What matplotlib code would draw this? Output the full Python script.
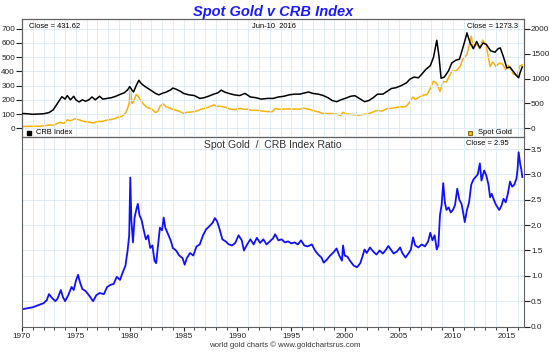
import matplotlib.pyplot as plt
from matplotlib.ticker import FormatStrFormatter

plt.rcParams['font.family'] = ['Liberation Sans', 'DejaVu Sans']

# ---- data ----
crb_t = [1970.0, 1970.5, 1971.0, 1971.5, 1972.0, 1972.5, 1972.9, 1973.2, 1973.5, 1973.7,
         1974.0, 1974.2, 1974.5, 1974.8, 1975.0, 1975.3, 1975.6, 1975.9, 1976.2, 1976.5,
         1976.8, 1977.2, 1977.5, 1977.9, 1978.3, 1978.7, 1979.0, 1979.5, 1979.8, 1980.0,
         1980.2, 1980.35, 1980.6, 1980.85, 1981.0, 1981.3, 1981.6, 1982.0, 1982.4, 1982.7,
         1983.0, 1983.4, 1983.8, 1984.0, 1984.3, 1984.7, 1985.0, 1985.5, 1986.0, 1986.5,
         1986.9, 1987.3, 1987.8, 1988.2, 1988.5, 1988.8, 1989.2, 1989.7, 1990.2, 1990.7,
         1991.2, 1991.7, 1992.2, 1992.8, 1993.3, 1993.8, 1994.3, 1994.8, 1995.3, 1995.8,
         1996.3, 1996.6, 1997.0, 1997.5, 1997.9, 1998.4, 1998.8, 1999.2, 1999.6, 2000.0,
         2000.5, 2000.9, 2001.3, 2001.8, 2002.2, 2002.6, 2003.0, 2003.5, 2003.9, 2004.3,
         2004.7, 2005.2, 2005.7, 2006.0, 2006.4, 2006.8, 2007.1, 2007.5, 2007.9, 2008.2,
         2008.5, 2008.7, 2008.9, 2009.2, 2009.6, 2009.9, 2010.3, 2010.6, 2010.9, 2011.2,
         2011.3, 2011.6, 2011.9, 2012.2, 2012.5, 2012.8, 2013.1, 2013.5, 2013.9, 2014.2,
         2014.4, 2014.7, 2015.0, 2015.3, 2015.6, 2015.9, 2016.1, 2016.25, 2016.44]
crb_v = [104, 102, 98, 100, 102, 110, 130, 165, 200, 222,
         205, 230, 200, 225, 200, 185, 200, 190, 200, 220,
         200, 225, 205, 210, 215, 225, 235, 250, 270, 293,
         270, 255, 300, 338, 320, 300, 285, 265, 245, 235,
         245, 255, 270, 283, 275, 260, 245, 235, 230, 210,
         215, 225, 240, 250, 268, 255, 245, 235, 230, 245,
         220, 215, 205, 210, 210, 220, 225, 235, 240, 240,
         250, 255, 245, 240, 232, 215, 195, 187, 200, 210,
         225, 229, 210, 187, 195, 215, 240, 240, 260, 280,
         285, 300, 320, 345, 360, 355, 380, 415, 440, 500,
         619, 510, 352, 360, 405, 460, 480, 485, 560, 640,
         671, 600, 560, 610, 565, 600, 590, 545, 535, 560,
         565, 500, 425, 430, 400, 370, 355, 395, 431.62]

gold_t = [1970.0, 1971.0, 1971.6, 1972.0, 1972.5, 1973.0, 1973.5, 1973.9, 1974.2, 1974.5,
          1974.9, 1975.3, 1975.7, 1976.0, 1976.6, 1977.0, 1977.5, 1978.0, 1978.5, 1978.9,
          1979.3, 1979.6, 1979.8, 1979.95, 1980.05, 1980.2, 1980.35, 1980.6, 1980.8, 1981.0,
          1981.3, 1981.6, 1982.0, 1982.4, 1982.6, 1982.8, 1983.1, 1983.4, 1983.7, 1984.0,
          1984.5, 1985.0, 1985.3, 1985.7, 1986.2, 1986.6, 1986.9, 1987.3, 1987.8, 1988.1,
          1988.5, 1988.9, 1989.3, 1989.8, 1990.2, 1990.6, 1990.9, 1991.3, 1991.8, 1992.3,
          1992.8, 1993.2, 1993.5, 1993.9, 1994.3, 1994.8, 1995.3, 1995.8, 1996.1, 1996.6,
          1997.0, 1997.5, 1997.9, 1998.3, 1998.8, 1999.2, 1999.6, 1999.8, 2000.1, 2000.5,
          2000.9, 2001.2, 2001.7, 2002.1, 2002.5, 2003.0, 2003.4, 2003.9, 2004.3, 2004.7,
          2005.1, 2005.6, 2005.9, 2006.3, 2006.5, 2006.9, 2007.3, 2007.6, 2007.9, 2008.2,
          2008.5, 2008.8, 2009.1, 2009.4, 2009.9, 2010.3, 2010.7, 2010.9, 2011.3, 2011.7,
          2011.9, 2012.2, 2012.5, 2012.75, 2013.1, 2013.45, 2013.7, 2014.0, 2014.3, 2014.6,
          2014.9, 2015.1, 2015.4, 2015.6, 2015.95, 2016.2, 2016.44]
gold_v = [35, 38, 42, 46, 65, 65, 120, 100, 170, 150,
          190, 170, 140, 130, 108, 135, 140, 170, 185, 220,
          245, 300, 400, 500, 822, 500, 530, 680, 640, 560,
          480, 420, 390, 315, 340, 440, 490, 430, 410, 380,
          350, 300, 320, 325, 345, 380, 400, 420, 470, 440,
          440, 420, 385, 375, 400, 380, 385, 360, 360, 345,
          335, 330, 395, 380, 385, 390, 385, 385, 405, 385,
          355, 330, 300, 295, 295, 285, 255, 320, 290, 280,
          270, 260, 280, 285, 320, 360, 345, 395, 400, 415,
          430, 430, 500, 630, 580, 630, 670, 680, 800, 950,
          900, 740, 940, 930, 1150, 1150, 1250, 1390, 1480, 1850,
          1600, 1700, 1600, 1770, 1650, 1240, 1330, 1240, 1310, 1290,
          1180, 1270, 1180, 1090, 1060, 1250, 1273.3]

ratio_t = [1970.0, 1970.5, 1971.0, 1971.5, 1972.0, 1972.3, 1972.5, 1972.8, 1973.1, 1973.3,
           1973.6, 1973.8, 1974.0, 1974.3, 1974.6, 1974.8, 1975.0, 1975.2, 1975.4, 1975.6,
           1975.9, 1976.2, 1976.6, 1976.9, 1977.2, 1977.6, 1977.9, 1978.2, 1978.5, 1978.8,
           1979.1, 1979.3, 1979.6, 1979.8, 1979.95, 1980.05, 1980.15, 1980.3, 1980.45, 1980.6,
           1980.75, 1980.9, 1981.1, 1981.3, 1981.5, 1981.7, 1981.9, 1982.1, 1982.3, 1982.45,
           1982.6, 1982.8, 1983.0, 1983.15, 1983.3, 1983.5, 1983.8, 1984.0, 1984.3, 1984.6,
           1984.9, 1985.1, 1985.3, 1985.6, 1985.9, 1986.2, 1986.5, 1986.8, 1987.1, 1987.4,
           1987.7, 1987.9, 1988.1, 1988.3, 1988.6, 1988.9, 1989.2, 1989.5, 1989.8, 1990.1,
           1990.4, 1990.6, 1990.9, 1991.2, 1991.5, 1991.8, 1992.1, 1992.4, 1992.7, 1993.0,
           1993.3, 1993.5, 1993.8, 1994.1, 1994.4, 1994.7, 1995.0, 1995.3, 1995.6, 1995.9,
           1996.2, 1996.5, 1996.9, 1997.2, 1997.5, 1997.8, 1998.0, 1998.3, 1998.6, 1998.9,
           1999.2, 1999.45, 1999.7, 1999.8, 1999.95, 2000.2, 2000.5, 2000.8, 2001.1, 2001.4,
           2001.6, 2001.8, 2002.0, 2002.3, 2002.6, 2002.9, 2003.2, 2003.5, 2003.8, 2004.0,
           2004.3, 2004.5, 2004.8, 2005.1, 2005.3, 2005.6, 2005.9, 2006.1, 2006.3, 2006.5,
           2006.8, 2007.1, 2007.4, 2007.7, 2007.9, 2008.1, 2008.3, 2008.5, 2008.65, 2008.8,
           2008.95, 2009.1, 2009.25, 2009.4, 2009.6, 2009.8, 2010.0, 2010.2, 2010.4, 2010.6,
           2010.8, 2010.95, 2011.1, 2011.3, 2011.5, 2011.7, 2011.9, 2012.1, 2012.3, 2012.5,
           2012.65, 2012.9, 2013.1, 2013.3, 2013.45, 2013.6, 2013.8, 2014.0, 2014.3, 2014.5,
           2014.7, 2014.9, 2015.1, 2015.3, 2015.5, 2015.7, 2015.9, 2016.0, 2016.1, 2016.25,
           2016.35, 2016.44]
ratio_v = [0.34, 0.36, 0.38, 0.42, 0.46, 0.52, 0.64, 0.56, 0.50, 0.55,
           0.72, 0.58, 0.50, 0.62, 0.78, 0.72, 0.90, 1.02, 0.86, 0.74,
           0.70, 0.62, 0.50, 0.62, 0.66, 0.64, 0.78, 0.82, 0.84, 0.98,
           0.92, 1.04, 1.20, 1.50, 1.80, 2.94, 2.10, 1.66, 2.15, 2.30,
           2.42, 2.20, 2.10, 1.90, 1.72, 1.80, 1.55, 1.60, 1.30, 1.25,
           1.55, 1.95, 1.90, 2.15, 1.95, 1.85, 1.70, 1.55, 1.50, 1.40,
           1.35, 1.22, 1.35, 1.45, 1.40, 1.58, 1.62, 1.80, 1.92, 1.98,
           2.05, 2.14, 2.08, 1.95, 1.72, 1.68, 1.62, 1.60, 1.65, 1.80,
           1.70, 1.50, 1.62, 1.72, 1.62, 1.75, 1.65, 1.72, 1.62, 1.68,
           1.74, 1.82, 1.70, 1.72, 1.66, 1.68, 1.64, 1.66, 1.62, 1.70,
           1.60, 1.58, 1.62, 1.50, 1.42, 1.36, 1.26, 1.32, 1.40, 1.46,
           1.54, 1.40, 1.30, 1.60, 1.40, 1.38, 1.28, 1.20, 1.17, 1.25,
           1.38, 1.52, 1.45, 1.56, 1.48, 1.42, 1.50, 1.44, 1.52, 1.59,
           1.50, 1.44, 1.48, 1.56, 1.45, 1.36, 1.45, 1.52, 1.76, 1.60,
           1.56, 1.62, 1.58, 1.68, 1.85, 1.70, 1.80, 1.52, 1.60, 2.20,
           2.40, 2.83, 2.45, 2.30, 2.35, 2.25, 2.30, 2.40, 2.72, 2.50,
           2.42, 2.25, 2.06, 2.30, 2.45, 2.80, 2.90, 2.95, 3.00, 3.22,
           2.88, 3.08, 2.98, 2.80, 2.55, 2.62, 2.50, 2.40, 2.30, 2.38,
           2.52, 2.45, 2.62, 2.86, 2.76, 2.80, 2.92, 3.10, 3.44, 3.20,
           3.10, 2.95]

left_ticks = [0, 100, 200, 300, 400, 500, 600, 700]
right_ticks = [0, 500, 1000, 1500, 2000]
ratio_ticks = [0.0, 0.5, 1.0, 1.5, 2.0, 2.5, 3.0, 3.5]
year_ticks = [1970, 1975, 1980, 1985, 1990, 1995, 2000, 2005, 2010, 2015]

grid_c = '#dbe9f2'
spine_c = '#606060'
tick_fs = 5.9
note_fs = 5.4
x0, x1 = 1970, 2016.6

fig = plt.figure(figsize=(5.49, 3.52), dpi=100)
fig.patch.set_facecolor('white')

# ---- top panel: CRB (left) and spot gold (right) ----
ax1 = fig.add_axes([0.0401, 0.6108, 0.9144, 0.3352])
ax1.set_xlim(x0, x1)
ax1.set_ylim(-61.5, 768.6)
ax1.set_yticks(left_ticks)
ax1.set_xticks([])
ax1.set_xticks(range(1970, 2017), minor=True)
ax1.grid(True, which='minor', axis='x', color=grid_c, lw=0.6)
ax1.grid(True, which='major', axis='y', color=grid_c, lw=0.6)
ax1.tick_params(axis='x', which='minor', length=0)
ax1.tick_params(axis='y', labelsize=tick_fs, length=4, pad=1, colors='#222222')
ax1.set_axisbelow(True)
for s in ax1.spines.values():
    s.set_color(spine_c)
    s.set_linewidth(0.8)

ax2 = ax1.twinx()
ax2.set_ylim(-61.5 * 2000 / 700, 768.6 * 2000 / 700)
ax2.set_yticks(right_ticks)
ax2.tick_params(axis='y', labelsize=tick_fs, length=4, pad=1, colors='#222222')
ax2.plot(gold_t, gold_v, color='#f4b20c', lw=1.1, zorder=2)
ax1.set_zorder(ax2.get_zorder() + 1)
ax1.patch.set_visible(False)
ax1.plot(crb_t, crb_v, color='black', lw=1.1, zorder=3)
for s in ax2.spines.values():
    s.set_color(spine_c)
    s.set_linewidth(0.8)

ax1.text(0.013, 0.965, 'Close = 431.62', transform=ax1.transAxes, fontsize=note_fs,
         ha='left', va='top')
ax1.text(0.502, 0.965, 'Jun-10  2016', transform=ax1.transAxes, fontsize=note_fs,
         ha='center', va='top')
ax1.text(0.988, 0.965, 'Close = 1273.3', transform=ax1.transAxes, fontsize=note_fs,
         ha='right', va='top')
ax1.plot([0.014], [0.034], marker='s', ms=3.5, color='black', transform=ax1.transAxes,
         clip_on=False)
ax1.text(0.028, 0.034, 'CRB Index', transform=ax1.transAxes, fontsize=note_fs,
         ha='left', va='center')
ax1.plot([0.893], [0.034], marker='s', ms=3.5, mfc='#f4b20c', mec='#7a5a00', mew=0.6,
         transform=ax1.transAxes, clip_on=False)
ax1.text(0.908, 0.034, 'Spot Gold', transform=ax1.transAxes, fontsize=note_fs,
         ha='left', va='center')

# ---- bottom panel: ratio ----
ax3 = fig.add_axes([0.0401, 0.071, 0.9144, 0.5398])
ax3.plot(ratio_t, ratio_v, color='#1010ff', lw=1.3)
ax3.set_xlim(x0, x1)
ax3.set_ylim(-0.01, 3.74)
ax3.yaxis.tick_right()
ax3.set_yticks(ratio_ticks)
ax3.yaxis.set_major_formatter(FormatStrFormatter('%.1f'))
ax3.set_xticks(year_ticks)
ax3.set_xticks(range(1970, 2017), minor=True)
ax3.grid(True, which='minor', axis='x', color=grid_c, lw=0.6)
ax3.grid(True, which='major', axis='y', color=grid_c, lw=0.6)
ax3.tick_params(axis='x', which='major', labelsize=tick_fs, length=3, pad=1.5,
                colors='#222222')
ax3.tick_params(axis='x', which='minor', length=2, colors='#222222')
ax3.tick_params(axis='y', labelsize=tick_fs, length=4, pad=1, colors='#222222')
ax3.set_axisbelow(True)
for s in ax3.spines.values():
    s.set_color(spine_c)
    s.set_linewidth(0.8)

ax3.text(0.5, 0.985, 'Spot Gold  /  CRB Index Ratio', transform=ax3.transAxes,
         fontsize=7.5, ha='center', va='top', color='#333333')
ax3.text(0.970, 0.985, 'Close = 2.95', transform=ax3.transAxes, fontsize=note_fs,
         ha='right', va='top')

fig.text(0.498, 0.966, 'Spot Gold v CRB Index', fontsize=10.5, fontweight='bold',
         style='italic', color='#1a1aff', ha='center', va='center')
fig.text(0.518, 0.020, 'world gold charts \u00a9 www.goldchartsrus.com', fontsize=5.6,
         ha='center', va='center', color='#333333')

fig.savefig('out.png', dpi=100, facecolor='white')
